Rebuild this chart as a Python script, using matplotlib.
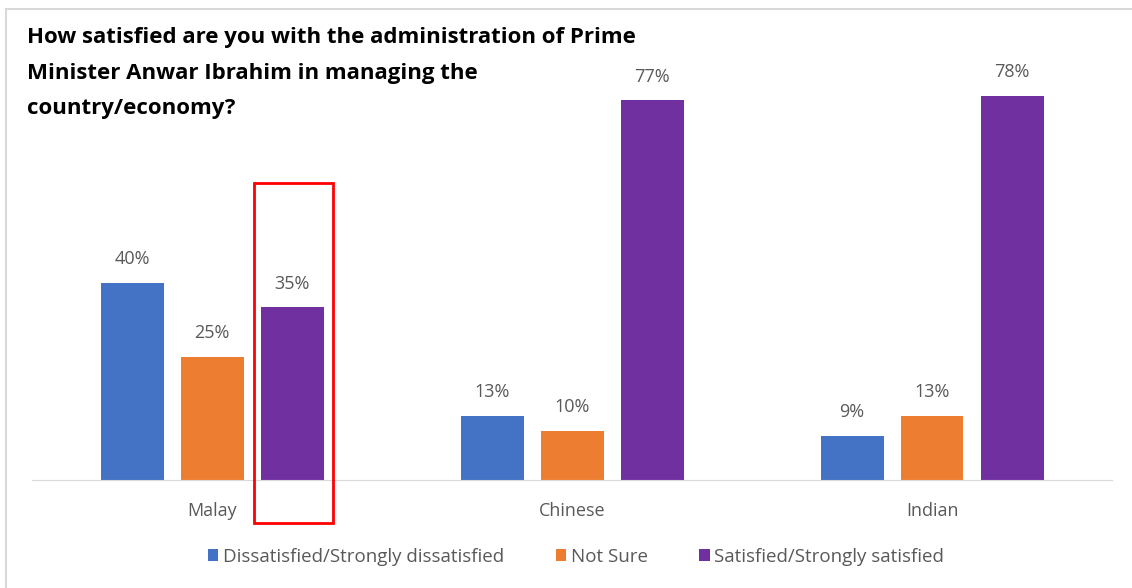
import matplotlib.pyplot as plt
import matplotlib.patches as patches
import numpy as np

# data
categories = ['Malay', 'Chinese', 'Indian']
series_names = ['Dissatisfied/Strongly dissatisfied', 'Not Sure', 'Satisfied/Strongly satisfied']
dissatisfied = [40, 13, 9]
not_sure = [25, 10, 13]
satisfied = [35, 77, 78]
colors = ['#4472C4', '#ED7D31', '#7030A0']

W, H = 1132, 588
fig = plt.figure(figsize=(W / 100, H / 100), dpi=100)

# axes: baseline at y=480px, x from 32 to 1112px
ax_left, ax_right = 32, 1112
ax_bottom, ax_top = 480, 61
ax = fig.add_axes([ax_left / W, 1 - ax_bottom / H, (ax_right - ax_left) / W, (ax_bottom - ax_top) / H])

x = np.arange(len(categories))
bw = 63 / 360
step = 80 / 360
all_series = [dissatisfied, not_sure, satisfied]
for i, (vals, name, c) in enumerate(zip(all_series, series_names, colors)):
    pos = x + (i - 1) * step
    ax.bar(pos, vals, width=bw, color=c, label=name, zorder=2)
    for p, v in zip(pos, vals):
        ax.text(p, v + 3.0, f'{v}%', ha='center', va='bottom', fontsize=13,
                color='#595959', family='Open Sans')

ax.set_xlim(-0.5, 2.5)
ax.set_ylim(0, 85)
ax.set_yticks([])
for s in ['top', 'right', 'left']:
    ax.spines[s].set_visible(False)
ax.spines['bottom'].set_color('#D9D9D9')
ax.set_xticks(x)
ax.set_xticklabels(categories, fontsize=13, color='#595959', family='Open Sans')
ax.tick_params(axis='x', length=0, pad=16)

# red highlight box around Malay satisfied bar
px = 1080 / 3
rx0 = (254 - 212) / px
rx1 = (333 - 212) / px
ytop = (480 - 183) / ((480 - 61) / 85)
ybot = (480 - 523) / ((480 - 61) / 85)
ax.add_patch(patches.Rectangle((rx0, ybot), rx1 - rx0, ytop - ybot, fill=False,
                               edgecolor='#FF0000', linewidth=2, clip_on=False, zorder=3))

leg = fig.legend(loc='center', bbox_to_anchor=(576 / W, 1 - 557 / H), ncol=3, frameon=False,
                 prop={'family': 'Open Sans', 'size': 13.5}, handlelength=0.55, handleheight=0.6,
                 columnspacing=2.75, handletextpad=0.25)
for t in leg.get_texts():
    t.set_color('#595959')

fig.text(27 / W, 1 - 27 / H, 'How satisfied are you with the administration of Prime\n'
         'Minister Anwar Ibrahim in managing the\ncountry/economy?',
         ha='left', va='top', fontsize=16, fontweight='bold', family='Open Sans',
         linespacing=1.92, color='black')

# light frame lines
fig.add_artist(plt.Line2D([6 / W, 1], [1 - 9 / H, 1 - 9 / H], color='#D9D9D9', lw=1.5))
fig.add_artist(plt.Line2D([6 / W, 6 / W], [0, 1 - 9 / H], color='#D9D9D9', lw=1.5))

fig.savefig('out.png', dpi=100)
